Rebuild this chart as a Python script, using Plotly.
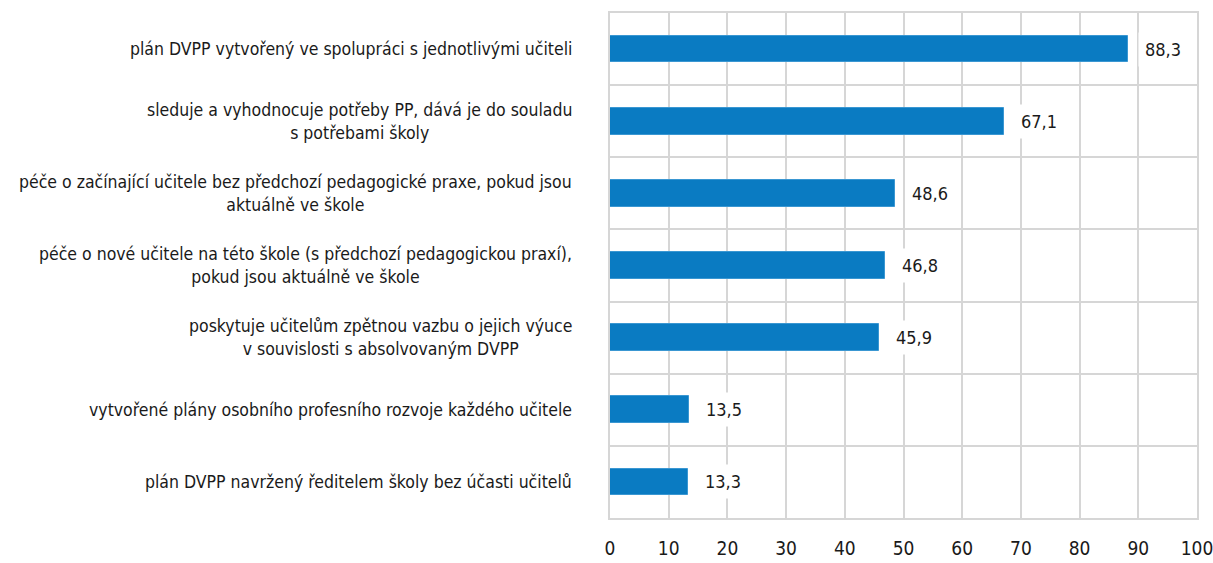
import plotly.graph_objects as go

categories = [
    "plán DVPP vytvořený ve spolupráci s jednotlivými učiteli",
    "sleduje a vyhodnocuje potřeby PP, dává je do souladu<br>s potřebami školy",
    "péče o začínající učitele bez předchozí pedagogické praxe, pokud jsou<br>aktuálně ve škole",
    "péče o nové učitele na této škole (s předchozí pedagogickou praxí),<br>pokud jsou aktuálně ve škole",
    "poskytuje učitelům zpětnou vazbu o jejich výuce<br>v souvislosti s absolvovaným DVPP",
    "vytvořené plány osobního profesního rozvoje každého učitele",
    "plán DVPP navržený ředitelem školy bez účasti učitelů",
]
values = [88.3, 67.1, 48.6, 46.8, 45.9, 13.5, 13.3]
x_ticks = [0, 10, 20, 30, 40, 50, 60, 70, 80, 90, 100]

FONT = "DejaVu Sans Condensed, Liberation Sans Narrow, sans-serif"
GRID = "#d6d6d6"
pos = list(range(len(categories)))

fig = go.Figure(go.Bar(
    x=values, y=pos, orientation="h", width=0.37,
    marker=dict(color="#0a7bc2", line=dict(color="#3a97d2", width=1)),
    hoverinfo="skip",
))

for i, (c, v) in enumerate(zip(categories, values)):
    fig.add_annotation(x=0, xref="paper", y=i, yref="y", text=c, showarrow=False,
                       xanchor="right", yanchor="middle", align="center", xshift=-36,
                       font=dict(family=FONT, size=17.5, color="#1a1a1a"))
    fig.add_annotation(x=v, xref="x", y=i, yref="y", text=f"{v:.1f}".replace(".", ","),
                       showarrow=False, xanchor="left", yanchor="middle", xshift=10,
                       bgcolor="white", borderpad=6,
                       font=dict(family=FONT, size=18, color="#1a1a1a"))

fig.update_layout(
    width=1213, height=563,
    margin=dict(l=610, r=16, t=13, b=45, autoexpand=False),
    paper_bgcolor="white", plot_bgcolor="white",
    showlegend=False,
    bargap=0,
    xaxis=dict(range=[0, 100], tickvals=x_ticks, ticktext=[str(t) for t in x_ticks],
               automargin=False,
               showgrid=True, gridcolor=GRID, gridwidth=1.5, zeroline=False,
               showline=True, linecolor=GRID, linewidth=1.5, mirror=True,
               ticks="", ticklen=0, ticklabelstandoff=12, ticklabeloverflow="allow",
               tickfont=dict(family=FONT, size=19, color="#1a1a1a")),
    yaxis=dict(range=[len(categories) - 0.5, -0.5],
               tickvals=[i - 0.5 for i in range(len(categories) + 1)],
               showticklabels=False, ticks="", automargin=False,
               showgrid=True, gridcolor=GRID, gridwidth=1.5, zeroline=False,
               showline=True, linecolor=GRID, linewidth=1.5, mirror=True),
)

fig.write_html("out.html")
